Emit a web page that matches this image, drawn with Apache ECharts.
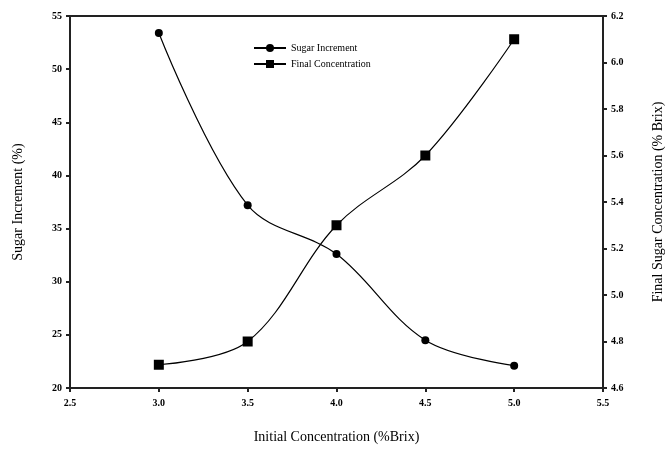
<!DOCTYPE html>
<html>
<head>
<meta charset="utf-8">
<script src="https://cdn.jsdelivr.net/npm/echarts@6/dist/echarts.min.js"></script>
<style>html,body{margin:0;padding:0;background:#fff;}#chart{width:667px;height:450px;}</style>
</head>
<body>
<div id="chart"></div>
<script>
var initialConc = [3.0, 3.5, 4.0, 4.5, 5.0];
var sugarIncrement = [53.4, 37.2, 32.6, 24.5, 22.1];
var finalConc = [4.7, 4.8, 5.3, 5.6, 6.1];
var seriesNames = ['Sugar Increment', 'Final Concentration'];

var font = '"Liberation Serif", "DejaVu Serif", serif';
var chart = echarts.init(document.getElementById('chart'));
function pairs(xs, ys){ return xs.map(function(x,i){ return [x, ys[i]]; }); }
var axisLineStyle = {color:'#222', width:2};
chart.setOption({
  animation:false,
  backgroundColor:'#fff',
  grid:{left:70, right:64, top:16, bottom:62, show:false, containLabel:false, outerBoundsMode:'none'},
  legend:{
    left:248, top:38, orient:'vertical', itemGap:6, itemWidth:32, itemHeight:10,
    textStyle:{fontFamily:font, fontSize:10, color:'#000'},
    data:[seriesNames[0], seriesNames[1]]
  },
  xAxis:[{
    type:'value', min:2.5, max:5.5, interval:0.5,
    name:'Initial Concentration (%Brix)', nameLocation:'middle', nameGap:42,
    nameTextStyle:{fontFamily:font, fontSize:14, color:'#000'},
    axisLine:{lineStyle:axisLineStyle},
    axisTick:{show:true, length:4, lineStyle:{color:'#222', width:2}},
    axisLabel:{fontFamily:font, fontSize:10, color:'#000', fontWeight:'bold', margin:10, formatter:function(v){return v.toFixed(1);}},
    splitLine:{show:false}
  },{
    type:'value', min:2.5, max:5.5, position:'top',
    axisLine:{lineStyle:axisLineStyle}, axisTick:{show:false}, axisLabel:{show:false}, splitLine:{show:false}
  }],
  yAxis:[{
    type:'value', min:20, max:55, interval:5, position:'left',
    name:'Sugar Increment (%)', nameLocation:'middle', nameGap:45, nameRotate:90,
    nameTextStyle:{fontFamily:font, fontSize:14, color:'#000'},
    axisLine:{show:true, lineStyle:axisLineStyle},
    axisTick:{show:true, length:4, lineStyle:{color:'#222', width:2}},
    axisLabel:{fontFamily:font, fontSize:10, color:'#000', fontWeight:'bold', margin:8},
    splitLine:{show:false}
  },{
    type:'value', min:4.6, max:6.2, interval:0.2, position:'right',
    name:'Final Sugar Concentration (% Brix)', nameLocation:'middle', nameGap:48, nameRotate:90,
    nameTextStyle:{fontFamily:font, fontSize:14, color:'#000'},
    axisLine:{show:true, lineStyle:axisLineStyle},
    axisTick:{show:true, length:4, lineStyle:{color:'#222', width:2}},
    axisLabel:{fontFamily:font, fontSize:10, color:'#000', fontWeight:'bold', margin:8, formatter:function(v){return v.toFixed(1);}},
    splitLine:{show:false}
  }],
  series:[{
    name:seriesNames[0], type:'line', xAxisIndex:0, yAxisIndex:0, smooth:0.35,
    data:pairs(initialConc, sugarIncrement),
    symbol:'circle', symbolSize:8,
    lineStyle:{color:'#000', width:1.2}, itemStyle:{color:'#000'}
  },{
    name:seriesNames[1], type:'line', xAxisIndex:0, yAxisIndex:1, smooth:0.35,
    data:pairs(initialConc, finalConc),
    symbol:'rect', symbolSize:10,
    lineStyle:{color:'#000', width:1.2}, itemStyle:{color:'#000'}
  }]
});
</script>
</body>
</html>
